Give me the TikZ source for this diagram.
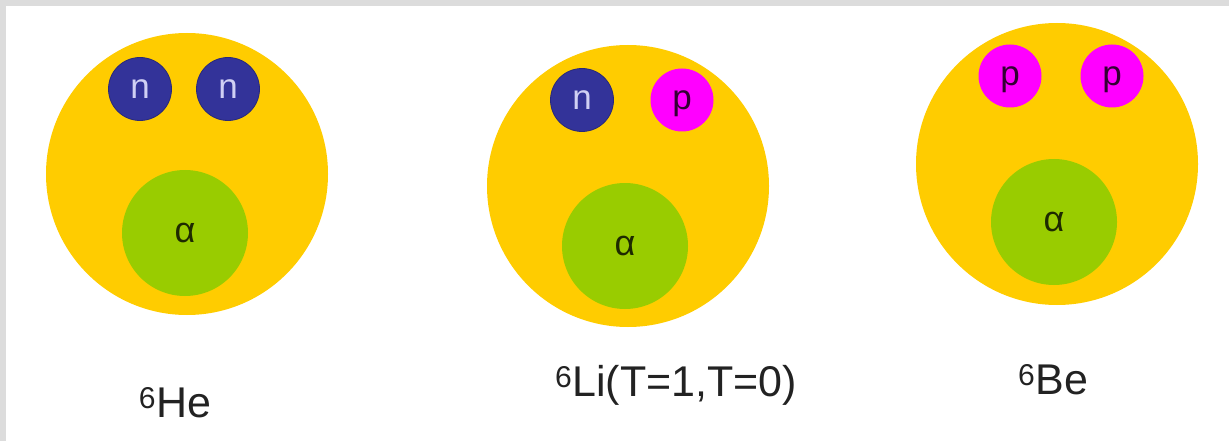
\documentclass[tikz,border=0pt]{standalone}
\usepackage{fontspec}
\setmainfont{Liberation Sans}
\definecolor{frame}{HTML}{DCDCDC}
\definecolor{nucl}{HTML}{FFCC00}
\definecolor{alph}{HTML}{99CC00}
\definecolor{neut}{HTML}{333399}
\definecolor{prot}{HTML}{FF00FF}
\definecolor{ntext}{HTML}{D0D0F4}
\definecolor{ptext}{HTML}{330033}
\definecolor{atext}{HTML}{1E2A00}
\definecolor{ltext}{HTML}{222222}
\tikzset{
  glyphbox/.style={text height=18.2pt,text depth=0pt},
  nucleus/.style={circle,fill=nucl,inner sep=0pt,minimum size=282pt},
  alphacore/.style={circle,fill=alph,inner sep=0pt,minimum size=126pt,text=atext,glyphbox,font=\fontsize{36}{38}\selectfont},
  neutron/.style={circle,fill=neut,draw=neut!80!black,line width=0.8pt,inner sep=0pt,minimum size=63pt,text=ntext,glyphbox,font=\fontsize{35}{38}\selectfont},
  proton/.style={circle,fill=prot,inner sep=0pt,minimum size=63pt,text=ptext,glyphbox,font=\fontsize{35}{38}\selectfont},
  isolabel/.style={text=ltext,inner sep=0pt,font=\fontsize{43}{46}\selectfont}
}
\begin{document}
\begin{tikzpicture}[x=1pt,y=-1pt]
\useasboundingbox (0,0) rectangle (1229,441);
\fill[frame] (0,0) rectangle (1229,6);
\fill[frame] (0,0) rectangle (6,441);
% 6He
\node[nucleus] (he) at (187,174) {};
\node[neutron] (hen1) at (140,89) {n};
\node[neutron] (hen2) at (228,89) {n};
\node[alphacore] (hea) at (185,233) {α};
\node[isolabel] (hel) at (175,403) {\textsuperscript{6}He};
% 6Li
\node[nucleus] (li) at (628,186) {};
\node[neutron] (lin) at (582,100) {n};
\node[proton] (lip) at (682,100) {p};
\node[alphacore] (lia) at (625,246) {α};
\node[isolabel] (lil) at (676,385) {\textsuperscript{6}Li(T=1,T=0)};
% 6Be
\node[nucleus] (be) at (1057,164) {};
\node[proton] (bep1) at (1010,76) {p};
\node[proton] (bep2) at (1112,76) {p};
\node[alphacore] (bea) at (1054,222) {α};
\node[isolabel] (bel) at (1053,380) {\textsuperscript{6}Be};
\end{tikzpicture}
\end{document}
